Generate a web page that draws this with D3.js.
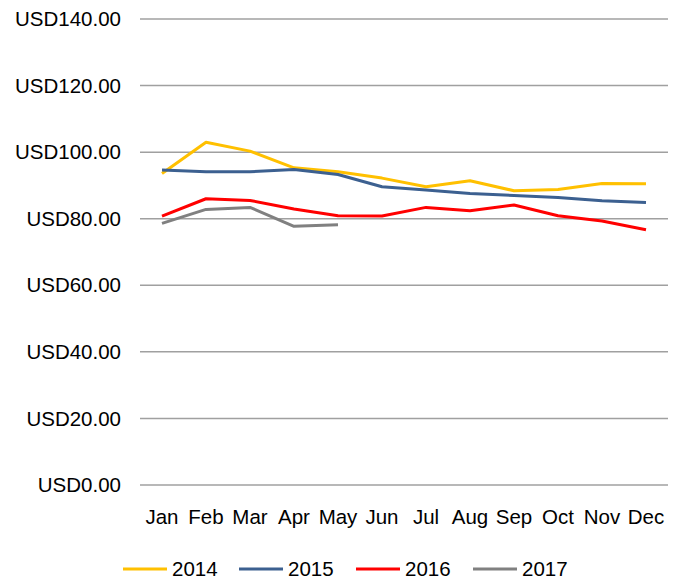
<!DOCTYPE html>
<html>
<head>
<meta charset="utf-8">
<script src="https://cdn.jsdelivr.net/npm/d3@7"></script>
<style>
  body { margin: 0; background: #fff; }
  svg text { font-family: "Liberation Sans", Arial, sans-serif; fill: #000; }
</style>
</head>
<body>
<svg id="chart" width="679" height="581"></svg>
<script>
var months = ["Jan", "Feb", "Mar", "Apr", "May", "Jun", "Jul", "Aug", "Sep", "Oct", "Nov", "Dec"];
var yTicks = [0, 20, 40, 60, 80, 100, 120, 140];

var v2014 = [93.6, 103.0, 100.3, 95.3, 94.1, 92.2, 89.6, 91.4, 88.4, 88.8, 90.6, 90.5];
var v2015 = [94.6, 94.1, 94.1, 94.8, 93.3, 89.6, 88.6, 87.6, 87.0, 86.4, 85.4, 84.9];
var v2016 = [80.8, 86.0, 85.5, 82.9, 80.9, 80.8, 83.4, 82.4, 84.1, 80.9, 79.3, 76.7];
var v2017 = [78.6, 82.8, 83.4, 77.7, 78.2];

var seriesNames = ["2014", "2015", "2016", "2017"];
var seriesColors = ["#ffc000", "#3c6090", "#ff0000", "#808080"];

var series = [v2014, v2015, v2016, v2017].map(function(vals, i) {
  return { name: seriesNames[i], color: seriesColors[i], values: vals };
});

var svg = d3.select("#chart"),
    margin = {top: 19, right: 11, bottom: 96, left: 140},
    width = 679 - margin.left - margin.right,
    height = 581 - margin.top - margin.bottom,
    g = svg.append("g").attr("transform", "translate(" + margin.left + "," + margin.top + ")");

var x = d3.scaleBand().domain(months).range([0, width]);
var y = d3.scaleLinear().domain([0, 140]).range([height, 0]);

// gridlines
g.selectAll(".grid")
  .data(yTicks)
  .enter().append("line")
    .attr("x1", 0)
    .attr("x2", width)
    .attr("y1", function(d) { return y(d); })
    .attr("y2", function(d) { return y(d); })
    .style("stroke", "#a0a0a0")
    .style("stroke-width", 1.5);

// y labels
g.selectAll(".ylab")
  .data(yTicks)
  .enter().append("text")
    .attr("x", -19)
    .attr("y", function(d) { return y(d); })
    .attr("dy", "0.35em")
    .attr("text-anchor", "end")
    .style("font-size", "20.5px")
    .text(function(d) { return "USD" + d3.format(".2f")(d); });

// x labels
g.selectAll(".xlab")
  .data(months)
  .enter().append("text")
    .attr("x", function(d) { return x(d) + x.bandwidth() / 2; })
    .attr("y", height + 32)
    .attr("dy", "0.35em")
    .attr("text-anchor", "middle")
    .style("font-size", "20.5px")
    .text(function(d) { return d; });

var line = d3.line()
  .x(function(d, i) { return x(months[i]) + x.bandwidth() / 2; })
  .y(function(d) { return y(d); });

g.selectAll(".series")
  .data(series)
  .enter().append("path")
    .attr("d", function(d) { return line(d.values); })
    .style("fill", "none")
    .style("stroke", function(d) { return d.color; })
    .style("stroke-width", 3)
    .style("stroke-linejoin", "round");

// legend
var legendX = [123, 239, 356, 473];
var legend = svg.selectAll(".legend")
  .data(series)
  .enter().append("g")
    .attr("transform", function(d, i) { return "translate(" + legendX[i] + ",569)"; });

legend.append("line")
  .attr("x1", 0).attr("x2", 44)
  .attr("y1", 0).attr("y2", 0)
  .style("stroke", function(d) { return d.color; })
  .style("stroke-width", 3);

legend.append("text")
  .attr("x", 49)
  .attr("dy", "0.35em")
  .style("font-size", "20.5px")
  .text(function(d) { return d.name; });
</script>
</body>
</html>
